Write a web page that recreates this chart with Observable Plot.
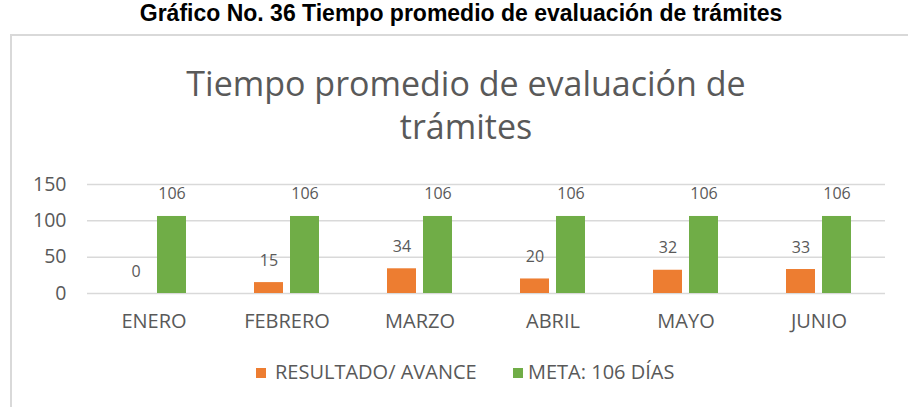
<!DOCTYPE html>
<html>
<head>
<meta charset="utf-8">
<script src="https://cdn.jsdelivr.net/npm/d3@7"></script>
<script src="https://cdn.jsdelivr.net/npm/@observablehq/plot@0.6"></script>
<style>
  html, body { margin: 0; padding: 0; background: #fff; width: 908px; height: 407px; overflow: hidden; position: relative; }
  #outer-title { position: absolute; left: 0; top: 0px; width: 922px; text-align: center; white-space: nowrap;
    font-family: "Liberation Sans", Arial, sans-serif; font-weight: bold; font-size: 23px; color: #000; line-height: 26px; }
  #frame { position: absolute; left: 10px; top: 34px; width: 1000px; height: 500px; border: 2px solid #d9d9d9; box-sizing: border-box; }
  #inner-title { position: absolute; left: 0; width: 932px; top: 62px; text-align: center;
    font-family: "Open Sans", sans-serif; font-size: 34px; color: #595959; line-height: 43px; white-space: nowrap; }
  #chart { position: absolute; left: 0; top: 150px; }
  #legend { position: absolute; top: 359px; left: 0; width: 908px; font-family: "Open Sans", sans-serif; font-size: 20px; color: #595959; }
  .lg { position: absolute; white-space: nowrap; line-height: 26px; }
  .sw { position: absolute; width: 10px; height: 10px; top: 9px; }
  #chart g[aria-label^="fx-axis"] text { font-size: 20px; fill: #595959; }
  #chart g[aria-label^="y-axis"] text { font-size: 19.5px; fill: #595959; }
</style>
</head>
<body>
<div id="outer-title">Gráfico No. 36 Tiempo promedio de evaluación de trámites</div>
<div id="frame"></div>
<div id="inner-title"><div>Tiempo promedio de evaluación de</div><div>trámites</div></div>
<div id="chart"></div>
<div id="legend"></div>
<script>
const months = ["ENERO", "FEBRERO", "MARZO", "ABRIL", "MAYO", "JUNIO"];
const resultado = [0, 15, 34, 20, 32, 33];
const meta = [106, 106, 106, 106, 106, 106];
const seriesNames = ["RESULTADO/ AVANCE", "META: 106 DÍAS"];
const seriesColors = ["#ED7D31", "#70AD47"];
const yTicks = [0, 50, 100, 150];

const rows = [];
months.forEach((m, i) => {
  rows.push({month: m, series: seriesNames[0], value: resultado[i]});
  rows.push({month: m, series: seriesNames[1], value: meta[i]});
});

const chart = Plot.plot({
  width: 908,
  height: 200,
  marginTop: 34,
  marginBottom: 57,
  marginLeft: 85,
  marginRight: 21,
  style: {fontFamily: "Open Sans, sans-serif", color: "#595959", background: "transparent", overflow: "visible"},
  fx: {domain: months, padding: 0, label: null, axis: "bottom", tickSize: 0, tickPadding: 20},
  x: {domain: seriesNames, paddingInner: 0.189, paddingOuter: 0.9, axis: null},
  y: {domain: [0, 150], ticks: yTicks, tickSize: 0, tickPadding: 21, label: null, tickFormat: d3.format("d")},
  color: {domain: seriesNames, range: seriesColors},
  marks: [
    Plot.ruleY(yTicks, {stroke: "#d9d9d9", strokeWidth: 1.5}),
    Plot.barY(rows, {fx: "month", x: "series", y: "value", fill: "series"}),
    Plot.text(rows, {fx: "month", x: "series", y: "value", text: d => String(d.value),
      lineAnchor: "bottom", dy: -17, fontSize: 16, fill: "#595959"})
  ]
});
document.getElementById("chart").appendChild(chart);

const legend = document.getElementById("legend");
const swatchLeft = [256, 513];
const textLeft = [275, 528];
seriesNames.forEach((name, i) => {
  const sw = document.createElement("span");
  sw.className = "sw";
  sw.style.left = swatchLeft[i] + "px";
  sw.style.background = seriesColors[i];
  legend.appendChild(sw);
  const el = document.createElement("div");
  el.className = "lg";
  el.style.left = textLeft[i] + "px";
  el.textContent = name;
  legend.appendChild(el);
});
</script>
</body>
</html>
